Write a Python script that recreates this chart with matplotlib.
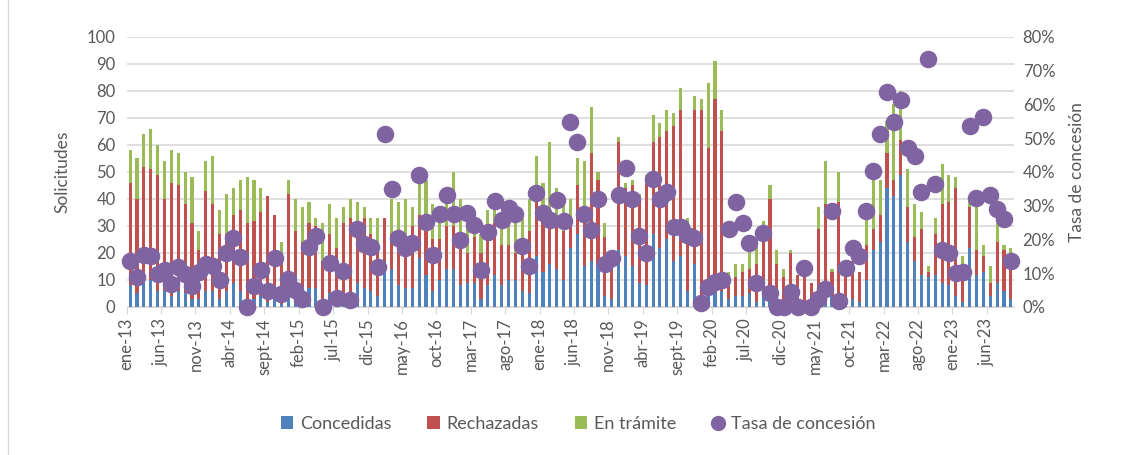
import matplotlib
matplotlib.use("Agg")
import matplotlib.pyplot as plt
from matplotlib.ticker import PercentFormatter
from matplotlib.lines import Line2D
import numpy as np

plt.rcParams['font.family'] = ['Lato', 'DejaVu Sans']

# meses ene-13 .. sept-23
meses = ['ene', 'feb', 'mar', 'abr', 'may', 'jun', 'jul', 'ago', 'sept', 'oct', 'nov', 'dic']
anios = list(range(13, 24))
etiquetas = [f'{m}-{a}' for a in anios for m in meses][:129]

concedidas = [8, 5, 10, 10, 6, 6, 4, 6, 5, 3, 3, 6, 6, 3, 6, 9, 6, 0, 3, 4,
              2, 5, 1, 4, 2, 1, 7, 7, 0, 5, 1, 4, 1, 9, 7, 6, 4, 17, 14, 8,
              7, 7, 18, 12, 6, 10, 14, 14, 8, 9, 9, 3, 8, 12, 8, 10, 10, 6, 5, 19,
              13, 16, 14, 10, 22, 27, 15, 17, 16, 4, 3, 21, 19, 15, 9, 8, 27, 22, 25, 17,
              19, 6, 16, 1, 4, 6, 6, 3, 4, 4, 5, 2, 6, 2, 0, 0, 1, 0, 1, 0,
              1, 3, 4, 1, 2, 3, 2, 10, 21, 24, 44, 41, 49, 24, 17, 12, 11, 12, 9, 8,
              4, 2, 22, 12, 13, 4, 9, 6, 3]

rechazadas = [38, 35, 42, 41, 43, 34, 42, 39, 33, 28, 18, 37, 32, 24, 21, 25, 30, 31, 29, 31,
              39, 29, 19, 38, 26, 23, 24, 23, 17, 22, 21, 27, 32, 19, 26, 21, 18, 16, 13, 17,
              17, 23, 16, 18, 19, 15, 16, 16, 17, 11, 17, 17, 17, 19, 15, 13, 10, 14, 23, 21,
              20, 15, 17, 18, 9, 18, 22, 40, 31, 22, 18, 40, 25, 30, 31, 38, 34, 41, 40, 50,
              54, 25, 57, 72, 55, 71, 59, 8, 7, 9, 9, 14, 19, 38, 16, 11, 19, 12, 11, 9,
              28, 35, 9, 38, 15, 14, 11, 13, 8, 10, 13, 6, 13, 13, 9, 17, 2, 15, 29, 31,
              40, 14, 15, 9, 6, 5, 15, 15, 16]

en_tramite = [12, 15, 12, 15, 11, 14, 12, 12, 12, 17, 7, 11, 18, 9, 15, 10, 11, 17, 15, 9,
              0, 0, 4, 5, 12, 13, 8, 3, 14, 11, 11, 6, 7, 11, 4, 6, 11, 0, 13, 14,
              16, 7, 12, 17, 13, 9, 12, 20, 15, 17, 8, 7, 11, 8, 11, 13, 15, 13, 12, 16,
              13, 30, 13, 11, 9, 10, 17, 17, 3, 5, 0, 2, 2, 2, 2, 3, 10, 5, 8, 5,
              8, 2, 5, 4, 24, 14, 8, 2, 5, 3, 12, 9, 7, 5, 5, 3, 1, 0, 0, 0,
              8, 16, 1, 11, 0, 0, 0, 10, 19, 13, 12, 28, 18, 14, 12, 6, 2, 6, 15, 10,
              4, 3, 4, 16, 4, 6, 7, 2, 3]

tasa = [13.7, 8.9, 15.3, 15.0, 9.7, 10.9, 6.7, 11.9, 9.9, 6.1, 10.4, 12.7, 12.2, 8.1, 16.1, 20.3, 14.7, 0, 6.1, 11.1,
        4.8, 14.6, 3.8, 8.4, 5.1, 2.5, 17.8, 21.0, 0, 12.9, 2.8, 10.7, 2.2, 23.0, 18.8, 17.8, 11.9, 51.3, 34.9, 20.3,
        17.5, 19.0, 39.1, 25.2, 15.5, 27.7, 33.2, 27.7, 19.8, 27.9, 24.3, 10.9, 22.1, 31.5, 25.7, 29.2, 27.7, 18.0, 12.2, 33.9,
        27.9, 25.9, 31.7, 25.5, 54.9, 49.0, 27.7, 22.8, 31.9, 12.6, 14.4, 33.2, 41.3, 31.9, 21.1, 16.1, 37.8, 31.9, 34.1, 23.6,
        23.6, 21.3, 20.3, 1.2, 5.9, 7.4, 8.1, 23.0, 31.2, 25.0, 19.0, 7.1, 21.8, 4.2, 0, 0, 4.5, 0, 11.7, 0,
        2.5, 5.4, 28.4, 1.7, 11.7, 17.5, 15.1, 28.4, 40.3, 51.2, 63.8, 54.7, 61.2, 47.0, 44.8, 34.2, 73.5, 36.3, 16.8, 16.1,
        10.1, 10.4, 53.7, 32.2, 56.4, 33.2, 28.9, 26.0, 13.6]

azul = '#4F81BD'
rojo = '#C0504D'
verde = '#9BBB59'
morado = '#8064A2'
gris = '#595959'

x = np.arange(len(etiquetas))
c = np.array(concedidas)
r = np.array(rechazadas)
e = np.array(en_tramite)

fig = plt.figure(figsize=(11.27, 4.55), dpi=100)
ax = fig.add_axes([0.1124, 0.3253, 0.7876, 0.5934])

ancho = 0.45
ax.bar(x, c, ancho, color=azul, zorder=2, label='Concedidas')
ax.bar(x, r, ancho, bottom=c, color=rojo, zorder=2, label='Rechazadas')
ax.bar(x, e, ancho, bottom=c + r, color=verde, zorder=2, label='En trámite')

ax.set_xlim(-0.5, len(x) - 0.5)
ax.set_ylim(0, 100)
ax.set_yticks(range(0, 101, 10))
ax.yaxis.grid(True, color='#D9D9D9', linewidth=1.2, zorder=0)
ax.set_axisbelow(True)
for s in ['top', 'right', 'left']:
    ax.spines[s].set_visible(False)
ax.spines['bottom'].set_color('#D9D9D9')
ax.tick_params(axis='y', length=0, labelsize=12, colors=gris, pad=8)

# etiquetas cada 5 meses, en el borde de la categoria
pos = np.arange(0, len(x), 5)
ax.set_xticks(pos - 0.5)
ax.set_xticklabels([etiquetas[i] for i in pos], rotation=90, fontsize=12, color=gris)
ax.tick_params(axis='x', length=5, color='#D9D9D9', pad=3)
ax.set_ylabel('Solicitudes', fontsize=12.5, color=gris, labelpad=12)

ax2 = ax.twinx()
ax2.scatter(x, np.array(tasa) / 100, s=135, color=morado, zorder=4, label='Tasa de concesión')
ax2.set_ylim(0, 0.8)
ax2.set_yticks(np.arange(0, 0.81, 0.1))
ax2.yaxis.set_major_formatter(PercentFormatter(1.0, decimals=0))
ax2.tick_params(axis='y', length=0, labelsize=12, colors=gris, pad=6)
for s in ['top', 'right', 'left', 'bottom']:
    ax2.spines[s].set_visible(False)
ax2.set_ylabel('Tasa de concesión', fontsize=12.5, color=gris, labelpad=10)
for coll in ax2.collections:
    coll.set_clip_on(False)

h1, l1 = ax.get_legend_handles_labels()
h2 = [Line2D([], [], marker='o', linestyle='', markersize=10, color=morado)]
fig.legend(h1 + h2, l1 + ['Tasa de concesión'], loc='center', bbox_to_anchor=(0.513, 0.068),
           ncol=4, frameon=False, fontsize=13, handlelength=0.7, handleheight=0.7,
           columnspacing=2.0, handletextpad=0.35, labelcolor=gris)

fig.add_artist(Line2D([8 / 1127, 8 / 1127], [0, 1], color='#D9D9D9', linewidth=1))

fig.savefig('out.png', dpi=100)
